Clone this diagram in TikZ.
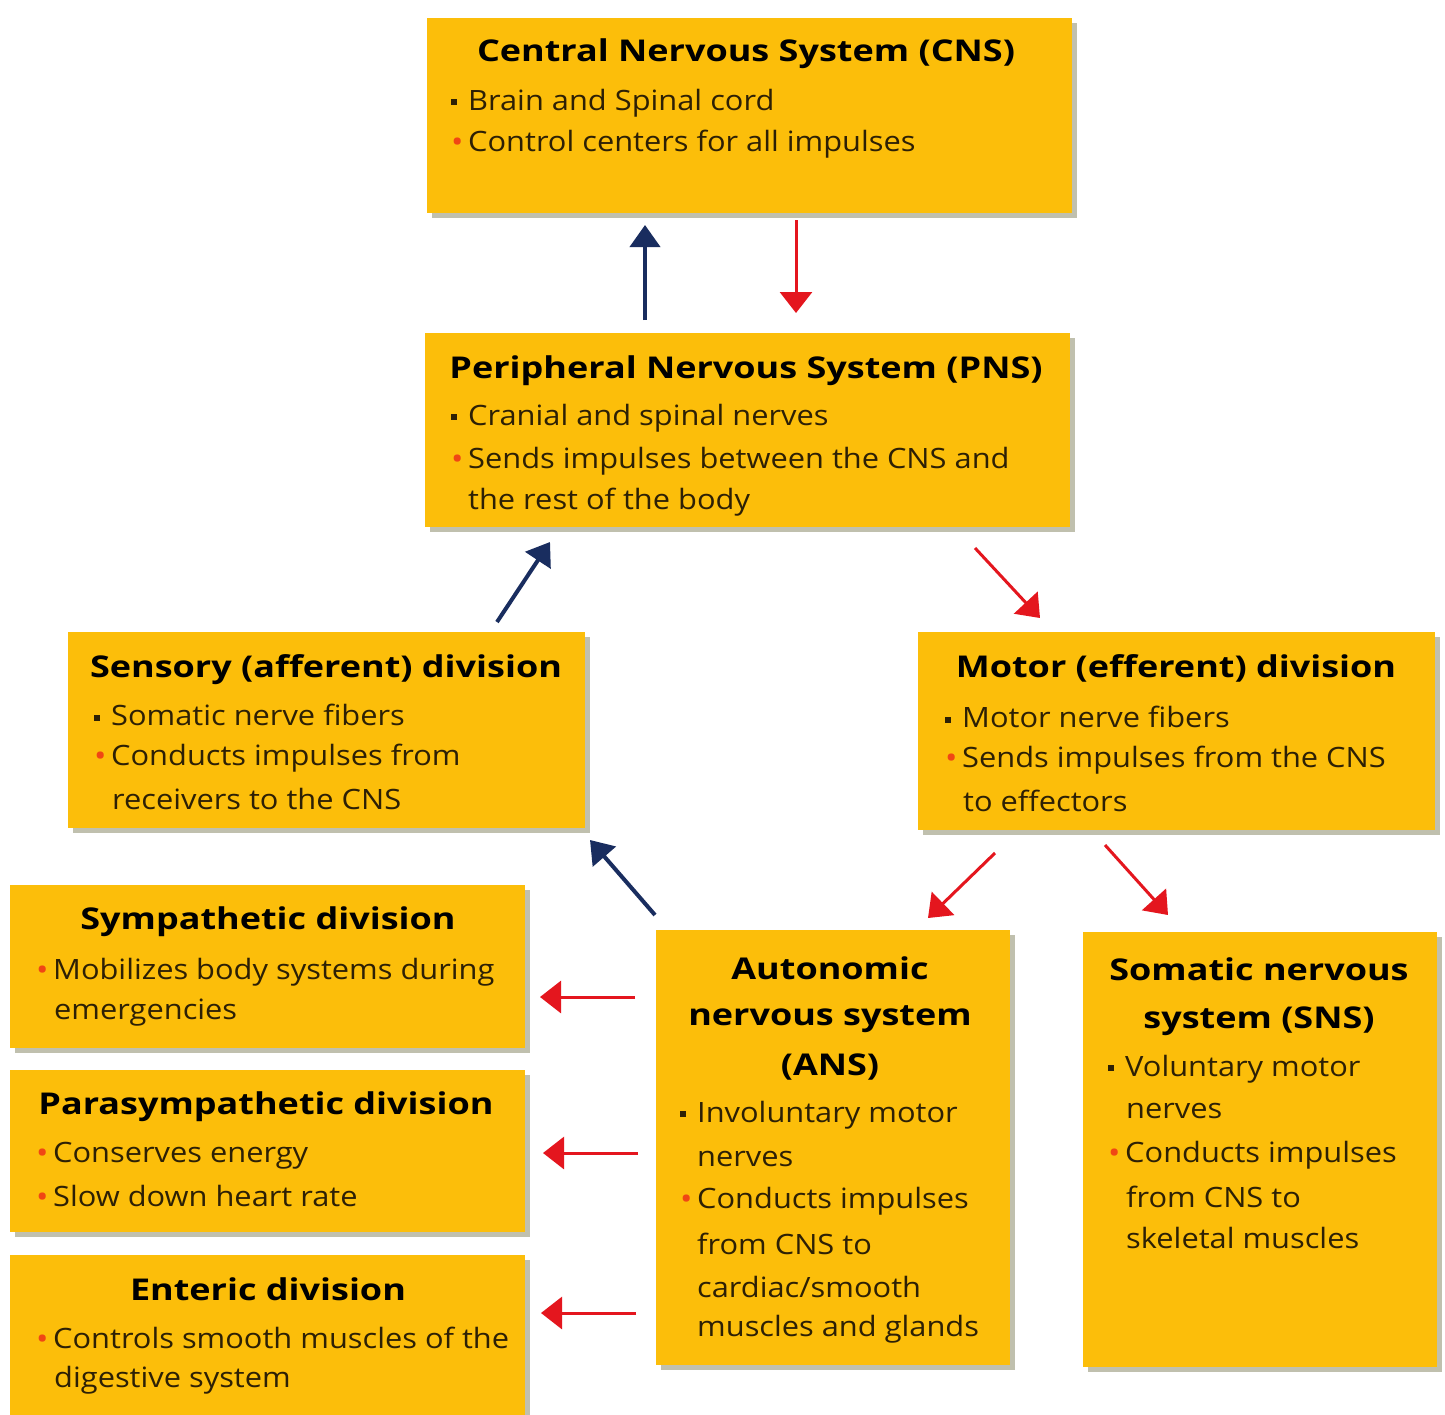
\documentclass[tikz,border=0pt]{standalone}
\usepackage{fontspec}
\setmainfont{Open Sans}[FakeStretch=1.1]
\newfontfamily\ttlfont{Open Sans}[FakeStretch=1.2]
\usetikzlibrary{arrows.meta,shadows}
\definecolor{boxfill}{RGB}{252,190,10}
\definecolor{shadowgray}{RGB}{150,150,120}
\definecolor{txtcol}{RGB}{45,32,5}
\definecolor{arrblue}{RGB}{25,45,95}
\definecolor{arrred}{RGB}{228,22,30}
\definecolor{bulor}{RGB}{240,70,20}
\newcommand{\bsq}{\makebox[17pt][l]{\rule[5pt]{6pt}{6pt}}}
\newcommand{\bdt}{\makebox[17pt][l]{\textcolor{bulor}{\fontsize{30}{30}\selectfont\raisebox{-1pt}{•}}}}
\tikzset{
 box/.style={fill=boxfill, draw=none, anchor=north west, inner sep=0pt, outer sep=0pt,
   drop shadow={shadow xshift=5pt, shadow yshift=-5pt, fill=shadowgray, opacity=0.6}},
 ttl/.style={font=\ttlfont\bfseries\fontsize{30}{34}\selectfont, text=black, inner sep=0pt, yshift=-3pt},
 txt/.style={font=\fontsize{28}{32}\selectfont, text=txtcol, anchor=west, inner sep=0pt, yshift=-2pt},
 blarr/.style={draw=arrblue, line width=4pt, -{Triangle[length=22pt,width=30pt]}},
 rdarr/.style={draw=arrred, line width=3pt, -{Triangle[length=21pt,width=32pt]}},
}
\begin{document}
\begin{tikzpicture}[x=1pt,y=-1pt]
\useasboundingbox[fill=white] (0,0) rectangle (1445,1414);
% boxes
\node[box, minimum width=645pt, minimum height=195pt] (cns) at (427,18) {};
\node[box, minimum width=645pt, minimum height=194pt] (pns) at (425,333) {};
\node[box, minimum width=517pt, minimum height=196pt] (sens) at (68,632) {};
\node[box, minimum width=517pt, minimum height=198pt] (mot) at (918,632) {};
\node[box, minimum width=515pt, minimum height=163pt] (symp) at (10,885) {};
\node[box, minimum width=515pt, minimum height=162pt] (para) at (10,1070) {};
\node[box, minimum width=515pt, minimum height=170pt] (ent) at (10,1255) {};
\node[box, minimum width=354pt, minimum height=435pt] (ans) at (656,930) {};
\node[box, minimum width=354pt, minimum height=435pt] (sns) at (1083,932) {};
% CNS text
\node[ttl] (cnsT) at (746,51) {Central Nervous System (CNS)};
\node[txt] (cns1) at (451,101) {\bsq Brain and Spinal cord};
\node[txt] (cns2) at (451,142) {\bdt Control centers for all impulses};
% PNS text
\node[ttl] (pnsT) at (746,368) {Peripheral Nervous System (PNS)};
\node[txt] (pns1) at (451,416) {\bsq Cranial and spinal nerves};
\node[txt] (pns2) at (451,459) {\bdt Sends impulses between the CNS and};
\node[txt] (pns3) at (468,500) {the rest of the body};
% Sensory
\node[ttl] (sensT) at (326,667) {Sensory (afferent) division};
\node[txt] (sens1) at (94,713) {\bsq Somatic nerve fibers};
\node[txt] (sens2) at (94,756) {\bdt Conducts impulses from};
\node[txt] (sens3) at (112,797) {receivers to the CNS};
% Motor
\node[ttl] (motT) at (1176,665) {Motor (efferent) division};
\node[txt] (mot1) at (945,715) {\bsq Motor nerve fibers};
\node[txt] (mot2) at (945,758) {\bdt Sends impulses from the CNS};
\node[txt] (mot3) at (963,799) {to effectors};
% Sympathetic
\node[ttl] (sympT) at (268,919) {Sympathetic division};
\node[txt] (symp1) at (36,970) {\bdt Mobilizes body systems during};
\node[txt] (symp2) at (54,1011) {emergencies};
% Parasympathetic
\node[ttl] (paraT) at (266,1104) {Parasympathetic division};
\node[txt] (para1) at (36,1154) {\bdt Conserves energy};
\node[txt] (para2) at (36,1194) {\bdt Slow down heart rate};
% Enteric
\node[ttl] (entT) at (268,1286) {Enteric division};
\node[txt] (ent1) at (36,1336) {\bdt Controls smooth muscles of the};
\node[txt] (ent2) at (54,1378) {digestive system};
% ANS
\node[ttl] (ansT1) at (830,965) {Autonomic};
\node[ttl] (ansT2) at (830,1016) {nervous system};
\node[ttl] (ansT3) at (830,1064) {(ANS)};
\node[txt] (ans1) at (680,1113) {\bsq Involuntary motor};
\node[txt] (ans2) at (697,1157) {nerves};
\node[txt] (ans3) at (680,1199) {\bdt Conducts impulses};
\node[txt] (ans4) at (697,1242) {from CNS to};
\node[txt] (ans5) at (697,1285) {cardiac/smooth};
\node[txt] (ans6) at (697,1327) {muscles and glands};
% SNS
\node[ttl] (snsT1) at (1259,966) {Somatic nervous};
\node[ttl] (snsT2) at (1259,1018) {system (SNS)};
\node[txt] (sns1) at (1108,1067) {\bsq Voluntary motor};
\node[txt] (sns2) at (1126,1109) {nerves};
\node[txt] (sns3) at (1108,1153) {\bdt Conducts impulses};
\node[txt] (sns4) at (1126,1195) {from CNS to};
\node[txt] (sns5) at (1126,1236) {skeletal muscles};
% arrows
\draw[blarr] ([xshift=220pt,yshift=13pt]pns.north west) -- ([xshift=218pt,yshift=-12pt]cns.south west);
\draw[rdarr] ([xshift=369pt,yshift=-7pt]cns.south west) -- ([xshift=371pt,yshift=20pt]pns.north west);
\draw[blarr] ([xshift=429pt,yshift=10pt]sens.north west) -- ([xshift=125pt,yshift=-15pt]pns.south west);
\draw[rdarr] ([xshift=550pt,yshift=-21pt]pns.south west) -- ([xshift=122pt,yshift=14pt]mot.north west);
\draw[rdarr] ([xshift=77pt,yshift=-23pt]mot.south west) -- ([xshift=272pt,yshift=12pt]ans.north west);
\draw[rdarr] ([xshift=187pt,yshift=-15pt]mot.south west) -- ([xshift=85pt,yshift=17pt]sns.north west);
\draw[blarr] ([xshift=-1pt,yshift=15pt]ans.north west) -- ([xshift=522pt,yshift=-12pt]sens.south west);
\draw[rdarr] ([xshift=-21pt,yshift=-67pt]ans.north west) -- ([xshift=15pt,yshift=-112pt]symp.north east);
\draw[rdarr] ([xshift=-18pt,yshift=-223pt]ans.north west) -- ([xshift=18pt,yshift=-83pt]para.north east);
\draw[rdarr] ([xshift=-20pt,yshift=-383pt]ans.north west) -- ([xshift=16pt,yshift=-58pt]ent.north east);
\end{tikzpicture}
\end{document}
